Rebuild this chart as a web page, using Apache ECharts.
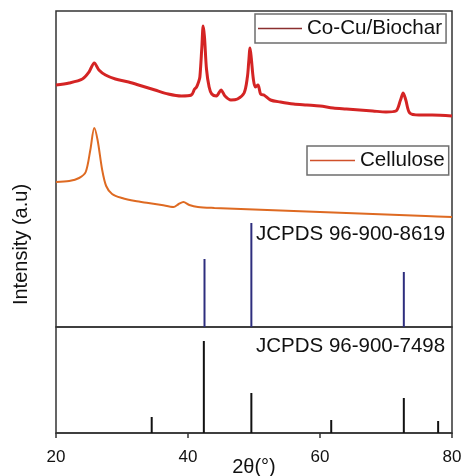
<!DOCTYPE html>
<html>
<head>
<meta charset="utf-8">
<script src="https://cdn.jsdelivr.net/npm/echarts@6/dist/echarts.min.js"></script>
<style>html,body{margin:0;padding:0;background:#fff}#c{width:462px;height:476px}</style>
</head>
<body>
<div id="c"></div>
<script>
// 2θ (degrees) and intensity (a.u.)
var cocuTheta = [20.0,22.0,24.0,25.0,25.8,26.5,27.5,29.0,31.0,33.0,35.0,37.0,39.0,40.5,41.0,41.3,41.6,41.8,42.1,42.3,42.5,42.8,43.2,43.6,44.3,45.0,45.6,46.5,47.5,48.5,49.0,49.2,49.4,49.6,49.9,50.2,50.6,51.0,51.5,52.5,54.0,56.0,58.0,60.0,62.0,64.0,66.0,68.0,70.0,71.5,72.2,72.6,73.0,73.6,75.0,77.0,80.0];
var cocuInt   = [242,244,248,255,264,257,252,248,245,241,237,233,231,232,238,240,245,250,280,301,290,258,240,233,231,237,231,227,228,234,250,265,279,268,248,240,242,233,232,227,225,223,222,221,219,218,217,216,215,216,227,234,227,214,212,212,211];

var celluTheta = [20,22,23.5,24.5,25.2,25.8,26.3,27.0,27.6,28.5,30,32,34,36,37.8,38.6,39.3,40.2,41.5,44,48,52,56,60,64,68,72,76,80];
var celluInt   = [145,146,149,155,177,199,187,157,141,133,129,126,124,122,120,123,125,122,120,119,118,117,116,115,114,113,112,111,110];

var ref8619Theta = [42.5, 49.6, 72.7];
var ref8619Int   = [68, 104, 55];

var ref7498Theta = [34.5, 42.4, 49.6, 61.7, 72.7, 77.9];
var ref7498Int   = [16, 92, 40, 13, 35, 12];

var xTicks = [20, 40, 60, 80];

function zip(a, b) { return a.map(function (v, i) { return [v, b[i]]; }); }

var FONT = 'Liberation Sans, Arial, sans-serif';
var chart = echarts.init(document.getElementById('c'), null, {renderer: 'canvas'});
chart.setOption({
  animation: false,
  backgroundColor: '#fff',
  grid: [
    {left: 56, right: 10, top: 11, height: 316, outerBoundsMode: 'none', containLabel: false, show: true, borderColor: '#333', borderWidth: 1.5, backgroundColor: 'transparent'},
    {left: 56, right: 10, top: 327, height: 106, outerBoundsMode: 'none', containLabel: false, show: true, borderColor: '#333', borderWidth: 1.5, backgroundColor: 'transparent'}
  ],
  xAxis: [
    {type: 'value', gridIndex: 0, min: xTicks[0], max: xTicks[xTicks.length - 1], interval: 20,
     axisLine: {show: false}, axisTick: {show: false}, axisLabel: {show: false}, splitLine: {show: false}},
    {type: 'value', gridIndex: 1, min: xTicks[0], max: xTicks[xTicks.length - 1], interval: 20,
     axisLine: {show: true, lineStyle: {color: '#333', width: 1.5}},
     axisTick: {show: true, inside: false, length: 5, lineStyle: {color: '#333', width: 1.5}},
     axisLabel: {fontSize: 17, color: '#111', fontFamily: FONT, margin: 16},
     splitLine: {show: false},
     name: '2θ(°)', nameLocation: 'middle', nameGap: 24, nameMoveOverlap: false,
     nameTextStyle: {fontSize: 20, color: '#111', fontFamily: FONT}}
  ],
  yAxis: [
    {type: 'value', gridIndex: 0, min: 0, max: 316, show: false},
    {type: 'value', gridIndex: 1, min: 0, max: 106, show: false}
  ],
  legend: [
    {left: 255, top: 14, selectedMode: false, orient: 'horizontal',
     data: [{name: 'Co-Cu/Biochar', icon: 'rect', itemStyle: {color: '#8a2f2f'}}],
     itemWidth: 44, itemHeight: 1.5, padding: [4, 4, 4, 3],
     borderColor: '#6e6e6e', borderWidth: 1.5,
     textStyle: {fontSize: 20.6, color: '#111', fontFamily: FONT}},
    {left: 307, top: 146, selectedMode: false,
     data: [{name: 'Cellulose', icon: 'rect', itemStyle: {color: '#d0502a'}}],
     itemWidth: 45, itemHeight: 1.5, padding: [4, 4, 4, 3],
     borderColor: '#6e6e6e', borderWidth: 1.5,
     textStyle: {fontSize: 20.6, color: '#111', fontFamily: FONT}}
  ],
  graphic: [
    {type: 'text', x: 256, y: 234, style: {text: 'JCPDS 96-900-8619', font: '20.5px ' + FONT, fill: '#111', verticalAlign: 'middle', align: 'left'}},
    {type: 'text', x: 256, y: 346, style: {text: 'JCPDS 96-900-7498', font: '20.5px ' + FONT, fill: '#111', verticalAlign: 'middle', align: 'left'}},
    {type: 'text', x: 21.5, y: 244.5, rotation: Math.PI / 2, style: {text: 'Intensity (a.u)', font: '20px ' + FONT, fill: '#111', verticalAlign: 'middle', align: 'center'}}
  ],
  series: [
    {name: 'Co-Cu/Biochar', type: 'line', xAxisIndex: 0, yAxisIndex: 0, data: zip(cocuTheta, cocuInt),
     showSymbol: false, symbol: 'none', smooth: 0.3, lineStyle: {color: '#d42424', width: 3}, itemStyle: {color: '#8a2f2f'}},
    {name: 'Cellulose', type: 'line', xAxisIndex: 0, yAxisIndex: 0, data: zip(celluTheta, celluInt),
     showSymbol: false, symbol: 'none', smooth: 0.3, lineStyle: {color: '#de6a22', width: 2}, itemStyle: {color: '#d0502a'}},
    {name: 'JCPDS 96-900-8619', type: 'bar', xAxisIndex: 0, yAxisIndex: 0, data: zip(ref8619Theta, ref8619Int),
     barWidth: 2, itemStyle: {color: '#2e2e7e'}},
    {name: 'JCPDS 96-900-7498', type: 'bar', xAxisIndex: 1, yAxisIndex: 1, data: zip(ref7498Theta, ref7498Int),
     barWidth: 2, itemStyle: {color: '#111'}}
  ]
});
</script>
</body>
</html>
